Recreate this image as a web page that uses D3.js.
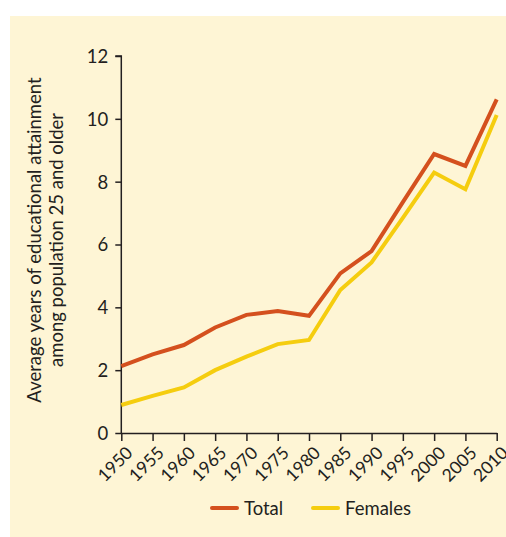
<!DOCTYPE html>
<html><head><meta charset="utf-8">
<script src="https://cdn.jsdelivr.net/npm/d3@7"></script>
<style>
html,body{margin:0;padding:0;background:#fff;}
text{font-family:"Lato","Noto Sans",sans-serif;fill:#231f20;}
</style></head>
<body>
<script>
const years = [1950,1955,1960,1965,1970,1975,1980,1985,1990,1995,2000,2005,2010];
const totalValues = [2.13,2.50,2.80,3.36,3.76,3.88,3.73,5.08,5.79,7.35,8.88,8.50,10.62];
const femaleValues = [0.89,1.18,1.45,2.00,2.43,2.83,2.96,4.55,5.43,6.85,8.29,7.76,10.12];
const yTicks = [0,2,4,6,8,10,12];
const seriesNames = ["Total","Females"];
const seriesColors = ["#d4501e","#f5cd0f"];
const yTitle = ["Average years of educational attainment","among population 25 and older"];

const W = 506, H = 537;
const svg = d3.select("body").append("svg").attr("width",W).attr("height",H);
svg.append("rect").attr("x",10).attr("y",16).attr("width",W-10).attr("height",H-16).attr("fill","#fef5d5");

const x = d3.scaleLinear().domain([1950,2010]).range([121.3,496.7]);
const y = d3.scaleLinear().domain([0,12]).range([433,56]);

const xAxis = svg.append("g").attr("transform","translate(0,433)")
  .call(d3.axisBottom(x).tickValues(years).tickFormat(d3.format("d")).tickSize(8).tickSizeOuter(0));
xAxis.selectAll("path,line").attr("stroke","#231f20").attr("stroke-width",1.5);
xAxis.selectAll("text").attr("font-size",17.5).attr("text-anchor","end")
  .attr("x",0).attr("y",0).attr("dy",0)
  .attr("transform","translate(12,21) rotate(-45)");

const yAxis = svg.append("g").attr("transform","translate(121.3,0)")
  .call(d3.axisLeft(y).tickValues(yTicks).tickSize(6).tickSizeOuter(0));
yAxis.select(".domain").attr("d","M-6,56H0V433");
yAxis.selectAll("path,line").attr("stroke","#231f20").attr("stroke-width",1.5);
yAxis.selectAll("text").attr("font-size",18.5).attr("x",-13).attr("dy","0.35em");
svg.selectAll(".domain").attr("fill","none");

const title = svg.append("text").attr("transform","translate(36,240) rotate(-90)")
  .attr("text-anchor","middle").attr("font-size",18.5);
title.append("tspan").attr("x",0).attr("dy",5).text(yTitle[0]);
title.append("tspan").attr("x",0).attr("dy",22).text(yTitle[1]);

const line = d3.line().x((d,i)=>x(years[i])).y(d=>y(d));
[femaleValues,totalValues].forEach((vals,k)=>{
  const idx = k===0?1:0;
  svg.append("path").datum(vals).attr("d",line).attr("fill","none")
    .attr("stroke",seriesColors[idx]).attr("stroke-width",4).attr("stroke-linejoin","miter");
});

const legendX = [212,313];
seriesNames.forEach((n,i)=>{
  svg.append("line").attr("x1",legendX[i]).attr("x2",legendX[i]+25).attr("y1",508).attr("y2",508)
    .attr("stroke",seriesColors[i]).attr("stroke-width",4).attr("stroke-linecap","round");
  svg.append("text").attr("x",legendX[i]+32).attr("y",514.5).attr("font-size",18.5).text(n);
});
</script>
</body></html>
